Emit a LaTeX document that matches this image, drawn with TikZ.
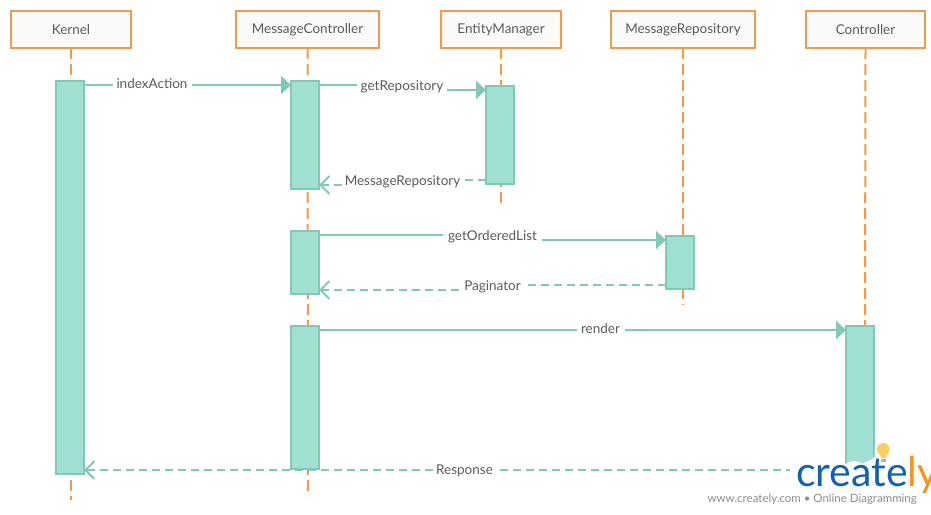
\documentclass[tikz,border=0pt]{standalone}
\usepackage{fontspec}
\setmainfont{Lato}
\usetikzlibrary{arrows.meta}
\definecolor{hdr}{HTML}{F09A4C}
\definecolor{hdrfill}{HTML}{FAFAFA}
\definecolor{barline}{HTML}{80C9B7}
\definecolor{barfill}{HTML}{A0E0D2}
\definecolor{txt}{HTML}{5A5A5A}
\definecolor{logoblue}{HTML}{0F62AE}
\definecolor{logoorange}{HTML}{F7931E}
\definecolor{bulb}{HTML}{F8D060}
\tikzset{
  x=1pt,y=-1pt,
  lifehead/.style={draw=hdr,line width=2pt,fill=hdrfill,text=txt,font=\fontsize{13.5}{16}\selectfont,minimum height=37pt,inner sep=0pt,outer sep=0pt,anchor=north west},
  lifeline/.style={draw=hdr,line width=2pt,dash pattern=on 11pt off 5pt},
  actbar/.style={draw=barline,line width=2pt,fill=barfill,minimum width=28pt,inner sep=0pt,outer sep=0pt,anchor=north west},
  msg/.style={draw=barline,line width=2pt},
  ret/.style={draw=barline,line width=2pt,dash pattern=on 8pt off 5pt},
  calltip/.style={-{Triangle[length=10pt,width=18pt,fill=barline]}},
  rettip/.style={-{Straight Barb[length=9pt,width=18pt,line width=2pt]}},
  msglabel/.style={text=txt,font=\fontsize{13.5}{16}\selectfont,inner sep=0pt,outer sep=0pt,anchor=center},
}
\begin{document}
\begin{tikzpicture}
\useasboundingbox (0,0) rectangle (931,514);
% lifeline ends
\coordinate (kend) at (71,500);
\coordinate (mcend) at (308,496);
\coordinate (emend) at (501,205);
\coordinate (mrend) at (683,305);
\coordinate (cend) at (865,326);
% heads
\node[lifehead,minimum width=120pt] (kh) at (11,11) {Kernel};
\node[lifehead,minimum width=143pt] (mch) at (236,11) {MessageController};
\node[lifehead,minimum width=120pt] (emh) at (441,11) {EntityManager};
\node[lifehead,minimum width=144pt] (mrh) at (611,11) {MessageRepository};
\node[lifehead,minimum width=119pt] (ch) at (806,11) {Controller};
% lifelines
\draw[lifeline] (kh.south) -- (kend);
\draw[lifeline] (mch.south) -- (mcend);
\draw[lifeline] (emh.south) -- (emend);
\draw[lifeline] (mrh.south) -- (mrend);
\draw[lifeline] (ch.south) -- (cend);
% activation bars
\node[actbar,minimum height=393pt] (kb) at (56,81) {};
\node[actbar,minimum height=108pt] (mc1) at (291,81) {};
\node[actbar,minimum height=98pt] (em1) at (486,86) {};
\node[actbar,minimum height=63pt] (mc2) at (291,231) {};
\node[actbar,minimum height=53pt] (mr1) at (666,236) {};
\node[actbar,minimum height=143pt] (mc3) at (291,326) {};
\node[actbar,minimum height=150pt] (c1) at (846,326) {};
% labels
\node[msglabel] (l1) at (152,83.5) {\rule{0pt}{0pt}indexAction};
\node[msglabel] (l2) at (402,86.5) {getRepository};
\node[msglabel] (l3) at (402.5,181.5) {MessageRepository};
\node[msglabel] (l4) at (492.5,236.5) {getOrderedList};
\node[msglabel] (l5) at (492.5,286.5) {Paginator};
\node[msglabel] (l6) at (600.5,328.5) {render};
\node[msglabel] (l7) at (464.5,470.5) {Response};
% messages
\draw[msg] (kb.east |- 0,85) -- ([xshift=-4pt]l1.west |- 0,85);
\draw[msg,calltip] ([xshift=4pt]l1.east |- 0,85) -- (mc1.west |- 0,85);
\draw[msg] (mc1.east |- 0,85) -- ([xshift=-4pt]l2.west |- 0,85);
\draw[msg,calltip] ([xshift=4pt]l2.east |- 0,90) -- (em1.west |- 0,90);
\draw[ret] (em1.west |- 0,180) -- ([xshift=3pt]l3.east |- 0,180);
\draw[ret,rettip] ([xshift=-3pt]l3.west |- 0,185) -- (mc1.east |- 0,185);
\draw[msg] (mc2.east |- 0,235) -- ([xshift=-5pt]l4.west |- 0,235);
\draw[msg,calltip] ([xshift=5pt]l4.east |- 0,240) -- (mr1.west |- 0,240);
\draw[ret] (mr1.west |- 0,285) -- ([xshift=5pt]l5.east |- 0,285);
\draw[ret,rettip] ([xshift=-5pt]l5.west |- 0,290) -- (mc2.east |- 0,290);
\draw[msg] (mc3.east |- 0,330) -- ([xshift=-4pt]l6.west |- 0,330);
\draw[msg,calltip] ([xshift=5pt]l6.east |- 0,330) -- (c1.west |- 0,330);
\draw[ret] (c1.west |- 0,470) -- ([xshift=3pt]l7.east |- 0,470);
\draw[ret,rettip] ([xshift=-3pt]l7.west |- 0,470) -- (kb.east |- 0,470);
% logo: white halo over the end of the bar
\fill[white] (790,470) -- (790,465) .. controls (815,467) and (832,470) .. (846,463.5)
  .. controls (852,460) and (858,460) .. (862,464) .. controls (868,460) and (872,461) .. (875,456)
  .. controls (873,447) and (877,441) .. (884,441) .. controls (892,441) and (894,450) .. (892,460)
  -- (892,480) -- (790,480) -- cycle;
\node[inner sep=0pt,anchor=base west,font=\fontsize{41}{41}\selectfont] (logo) at (796,486)
  {\textcolor{logoblue}{create}\textcolor{logoorange}{ly}};
\fill[bulb] (883.5,443) .. controls (887.5,443) and (889.5,446) .. (889.5,449)
  .. controls (889.5,453) and (886,455) .. (885.8,458) -- (881,458)
  .. controls (880.8,455) and (877,453) .. (877,449)
  .. controls (877,446) and (879.5,443) .. (883.5,443) -- cycle;
\fill[gray!60] (881.2,459) rectangle (885.6,462);
\node[inner sep=0pt,anchor=base east,text=gray!90,font=\fontsize{11.5}{14}\selectfont] (tag) at (917,502) {www.creately.com • Online Diagramming};
\end{tikzpicture}
\end{document}
